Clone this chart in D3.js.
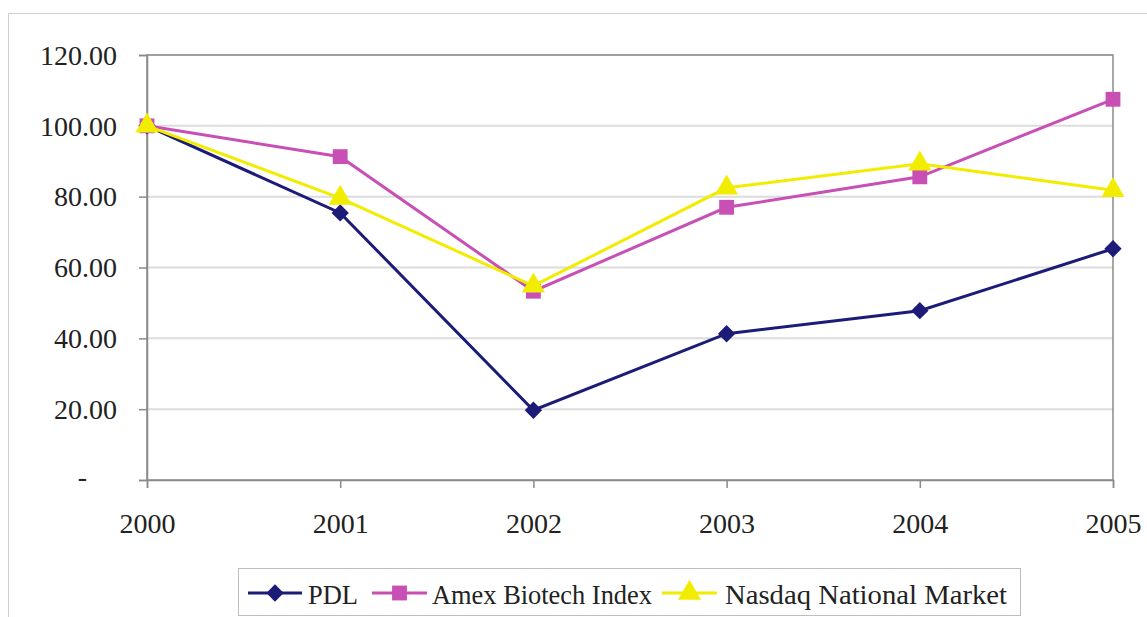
<!DOCTYPE html>
<html>
<head>
<meta charset="utf-8">
<script src="https://cdn.jsdelivr.net/npm/d3@7"></script>
</head>
<body style="margin:0; background:#fff">
<script>
let years = ["2000", "2001", "2002", "2003", "2004", "2005"]
let pdl = [100, 75.4, 19.7, 41.3, 47.8, 65.3]
let amex = [100, 91.3, 53.3, 77.0, 85.6, 107.5]
let nasdaq = [100, 79.6, 54.8, 82.5, 89.3, 81.8]
let yTicks = [0, 20, 40, 60, 80, 100, 120]
let seriesNames = ["PDL", "Amex Biotech Index", "Nasdaq National Market"]

let w = 1147
let h = 617
let m = {left: 147, right: 1113, top: 55, bottom: 480}
let serif = "Liberation Serif"
let fs = 28

let svg = d3.select("body").append("svg")
    .attr("width", w)
    .attr("height", h)

// outer frame
svg.append("rect")
    .attr("x", 8.5).attr("y", 13.5)
    .attr("width", w).attr("height", h)
    .attr("fill", "none")
    .attr("stroke", "#cfcfcf")

let x = d3.scalePoint().domain(years).range([m.left, m.right])
let y = d3.scaleLinear().domain([0, 120]).range([m.bottom, m.top])

// gridlines
svg.append("g")
    .selectAll("line")
    .data(yTicks.filter(d => d > 0))
    .enter()
    .append("line")
    .attr("x1", m.left).attr("x2", m.right)
    .attr("y1", d => y(d)).attr("y2", d => y(d))
    .attr("stroke", "#dcdcdc")
    .attr("stroke-width", 2)

// plot border
svg.append("rect")
    .attr("x", m.left).attr("y", m.top)
    .attr("width", m.right - m.left).attr("height", m.bottom - m.top)
    .attr("fill", "none")
    .attr("stroke", "#8a8a8a")
    .attr("stroke-width", 1.5)

let yAxis = d3.axisLeft(y)
    .tickValues(yTicks)
    .tickSize(8)
    .tickPadding(22)
    .tickFormat(d => d === 0 ? "-" : d.toFixed(2))
let yg = svg.append("g")
    .attr("transform", "translate(" + m.left + ",0)")
    .call(yAxis)
    .attr("font-family", serif)
    .attr("font-size", fs)
yg.select(".domain").attr("stroke", "#8a8a8a").attr("stroke-width", 1.5)
yg.selectAll(".tick line").attr("stroke", "#8a8a8a").attr("stroke-width", 1.5)
yg.selectAll(".tick text")
    .attr("font-family", serif)
    .attr("font-size", fs)
    .attr("fill", "#222")
    .attr("dx", d => d === 0 ? -30 : 0)
    .attr("dy", d => d === 0 ? "0.2em" : "0.33em")

let xAxis = d3.axisBottom(x)
    .tickSize(8)
    .tickPadding(25)
let xg = svg.append("g")
    .attr("transform", "translate(0," + m.bottom + ")")
    .call(xAxis)
    .attr("font-family", serif)
    .attr("font-size", fs)
xg.select(".domain").attr("stroke", "#8a8a8a").attr("stroke-width", 1.5)
xg.selectAll(".tick line").attr("stroke", "#8a8a8a").attr("stroke-width", 1.5)
xg.selectAll(".tick text")
    .attr("font-family", serif)
    .attr("font-size", fs)
    .attr("fill", "#222")

let colors = ["#1c1c78", "#c84fb4", "#f2ec00"]
let shapes = [d3.symbolSquare, d3.symbolSquare, d3.symbolTriangle]
let sizes = [150, 220, 230]
let rot = [45, 0, 0]
let allSeries = [pdl, amex, nasdaq]

let line = d3.line()
    .x((d, i) => x(years[i]))
    .y(d => y(d))

allSeries.forEach((s, k) => {
    let g = svg.append("g")
    g.append("path")
        .datum(s)
        .attr("d", line)
        .attr("fill", "none")
        .attr("stroke", colors[k])
        .attr("stroke-width", 3)
    g.selectAll("path.pt")
        .data(s)
        .enter()
        .append("path")
        .attr("class", "pt")
        .attr("d", d3.symbol().type(shapes[k]).size(sizes[k]))
        .attr("transform", (d, i) => "translate(" + x(years[i]) + "," + y(d) + ") rotate(" + rot[k] + ")")
        .attr("fill", colors[k])
})

// legend
let lg = svg.append("g")
lg.append("rect")
    .attr("x", 238.5).attr("y", 568.5)
    .attr("width", 782).attr("height", 47)
    .attr("fill", "#fff")
    .attr("stroke", "#bdbdbd")
// [line start, line end, text start, text width]
let legendX = [[248, 302, 308, 50], [372, 427, 432, 220], [662, 717, 725, 282]]
seriesNames.forEach((name, k) => {
    let [a, b, t, tw] = legendX[k]
    lg.append("line")
        .attr("x1", a).attr("x2", b)
        .attr("y1", 593).attr("y2", 593)
        .attr("stroke", colors[k])
        .attr("stroke-width", 3)
    lg.append("path")
        .attr("d", d3.symbol().type(shapes[k]).size(sizes[k]))
        .attr("transform", "translate(" + ((a + b) / 2) + ",593) rotate(" + rot[k] + ")")
        .attr("fill", colors[k])
    lg.append("text")
        .attr("x", t).attr("y", 595)
        .attr("dy", "0.33em")
        .attr("font-family", serif)
        .attr("font-size", fs)
        .attr("fill", "#222")
        .attr("textLength", tw)
        .attr("lengthAdjust", "spacingAndGlyphs")
        .text(name)
})
</script>
</body>
</html>
